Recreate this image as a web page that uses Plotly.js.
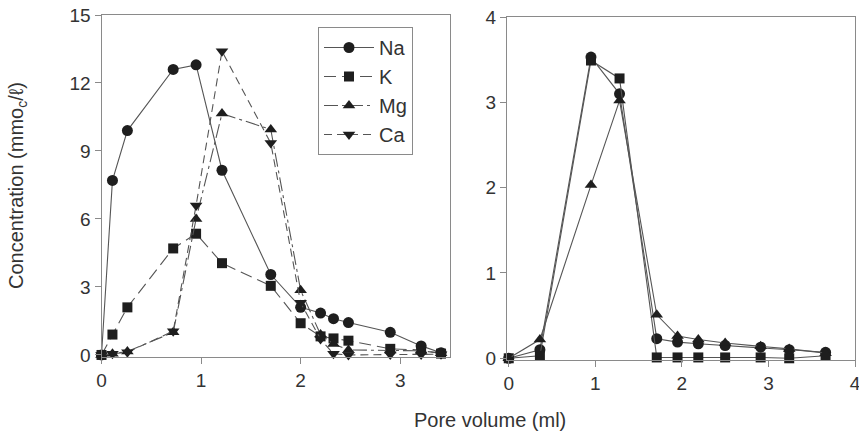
<!DOCTYPE html>
<html>
<head>
<meta charset="utf-8">
<script src="https://cdn.plot.ly/plotly-3.0.1.min.js"></script>
<style>html,body{margin:0;padding:0;background:#fff;}#chart{width:859px;height:437px;}</style>
</head>
<body>
<div id="chart"></div>
<script>
// Left panel (pore volume, ml)
var xLeft = [0, 0.11, 0.26, 0.72, 0.95, 1.21, 1.70, 2.00, 2.20, 2.33, 2.48, 2.90, 3.21, 3.41];
var naLeft = [0, 7.7, 9.9, 12.6, 12.8, 8.15, 3.55, 2.1, 1.85, 1.6, 1.43, 1.0, 0.4, 0.1];
var kLeft  = [0, 0.9, 2.1, 4.7, 5.35, 4.05, 3.05, 1.4, 0.82, 0.73, 0.63, 0.27, 0.22, 0.06];
var mgLeft = [0, 0.05, 0.15, 1.0, 6.0, 10.65, 9.95, 2.85, 0.9, 0.48, 0.22, 0.2, 0.18, 0.08];
var caLeft = [0, 0.05, 0.12, 1.05, 6.6, 13.4, 9.35, 2.3, 0.7, 0.05, 0.0, 0.02, 0.02, 0.03];

// Right panel
var xRight = [0, 0.36, 0.95, 1.28, 1.71, 1.95, 2.19, 2.50, 2.91, 3.24, 3.66];
var naRight = [0, 0.1, 3.53, 3.1, 0.23, 0.19, 0.17, 0.15, 0.13, 0.1, 0.07];
var kRight  = [0, 0.03, 3.49, 3.28, 0.01, 0.01, 0.01, 0.01, 0.01, 0.0, 0.03];
var mgRight = [0, 0.22, 2.03, 3.02, 0.51, 0.26, 0.22, 0.18, 0.14, 0.11, 0.06];

var names = ['Na', 'K', 'Mg', 'Ca'];
var symbols = ['circle', 'square', 'triangle-up', 'triangle-down'];
var dashes = ['solid', '12px,6px', '14px,4px,3px,4px', '8px,5px'];
var sizes = [11, 10, 11, 11];
var markerColor = '#1e1e1e';
var lineColor = '#555555';
var axisColor = '#8a8a8a';
var fontFam = '"Liberation Sans", Arial, sans-serif';

var leftY = [naLeft, kLeft, mgLeft, caLeft];
var traces = [];
for (var i = 0; i < 4; i++) {
  traces.push({
    x: xLeft, y: leftY[i], name: names[i], type: 'scatter', mode: 'lines+markers',
    xaxis: 'x', yaxis: 'y', cliponaxis: false,
    line: {color: lineColor, width: 1.1, dash: dashes[i]},
    marker: {symbol: symbols[i], size: sizes[i], color: markerColor}
  });
}
var rightY = [naRight, kRight, mgRight];
for (var j = 0; j < 3; j++) {
  traces.push({
    x: xRight, y: rightY[j], name: names[j], type: 'scatter', mode: 'lines+markers',
    xaxis: 'x2', yaxis: 'y2', cliponaxis: false, showlegend: false,
    line: {color: lineColor, width: 1.1},
    marker: {symbol: symbols[j], size: sizes[j], color: markerColor}
  });
}

var W = 859, H = 437;
function axBase() {
  return {
    showgrid: false, zeroline: false, showline: true, mirror: true,
    linecolor: axisColor, linewidth: 1,
    ticks: 'outside', ticklen: 6, tickcolor: axisColor, tickwidth: 1,
    ticklabeloverflow: 'allow',
    tickfont: {family: fontFam, size: 19, color: '#333'}
  };
}
var xa = axBase(); xa.domain = [101.5 / W, 450 / W]; xa.range = [0, 3.5]; xa.tickvals = [0, 1, 2, 3]; xa.anchor = 'y';
var ya = axBase(); ya.domain = [(H - 357) / H, (H - 15) / H]; ya.range = [-0.09, 15]; ya.tickvals = [0, 3, 6, 9, 12, 15]; ya.anchor = 'x';
var xa2 = axBase(); xa2.domain = [507 / W, 855 / W]; xa2.range = [-0.02, 4]; xa2.tickvals = [0, 1, 2, 3, 4]; xa2.anchor = 'y2';
var ya2 = axBase(); ya2.domain = [(H - 360) / H, (H - 17) / H]; ya2.range = [-0.02, 4]; ya2.tickvals = [0, 1, 2, 3, 4]; ya2.anchor = 'x2';

var layout = {
  width: W, height: H,
  margin: {l: 0, r: 0, t: 0, b: 0},
  paper_bgcolor: '#fff', plot_bgcolor: '#fff',
  showlegend: true,
  xaxis: xa, yaxis: ya, xaxis2: xa2, yaxis2: ya2,
  legend: {
    x: 318 / W, y: (H - 27) / H, xanchor: 'left', yanchor: 'top',
    bgcolor: 'rgba(255,255,255,0)', bordercolor: axisColor, borderwidth: 1,
    font: {family: fontFam, size: 20, color: '#333'},
    itemwidth: 50, tracegroupgap: 0
  },
  annotations: [
    {text: 'Pore volume (ml)', xref: 'paper', yref: 'paper', x: 490 / W, y: (H - 420) / H,
     xanchor: 'center', yanchor: 'middle', showarrow: false,
     font: {family: fontFam, size: 20, color: '#333'}},
    {text: 'Concentration (mmo<sub>c</sub>/ℓ)', xref: 'paper', yref: 'paper', x: 18 / W, y: (H - 186) / H,
     xanchor: 'center', yanchor: 'middle', showarrow: false, textangle: -90,
     font: {family: fontFam, size: 20, color: '#333'}}
  ]
};

Plotly.newPlot('chart', traces, layout, {displayModeBar: false, staticPlot: true});
</script>
</body>
</html>
